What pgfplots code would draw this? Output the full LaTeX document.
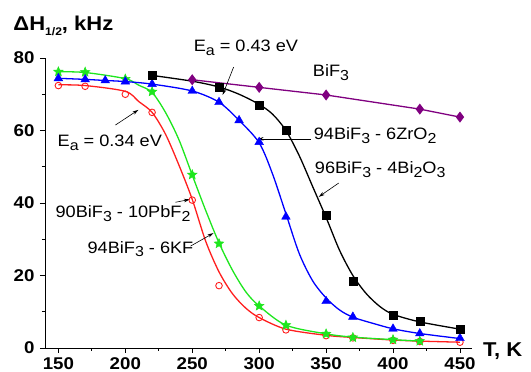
\documentclass[border=0pt]{standalone}
\usepackage{pgfplots}
\pgfplotsset{compat=1.18}
\usepackage{fontspec}
\setmainfont{Liberation Sans}[FakeStretch=1.1]
\setsansfont{Liberation Sans}[FakeStretch=1.1]
\usetikzlibrary{arrows.meta}
\definecolor{cred}{RGB}{255,30,30}
\definecolor{cgreen}{RGB}{30,230,30}
\definecolor{cblue}{RGB}{0,0,255}
\definecolor{cpurple}{RGB}{128,0,128}
\newcommand\sub[1]{\raisebox{-0.45ex}{\fontsize{14.5}{14.5}\selectfont #1}}
\newcommand\ann{\fontsize{16.5}{16.5}\selectfont}
\pgfdeclareplotmark{fstar}{%
  \pgfpathmoveto{\pgfqpointpolar{90}{\pgfplotmarksize}}%
  \pgfpathlineto{\pgfqpointpolar{126}{0.45\pgfplotmarksize}}%
  \pgfpathlineto{\pgfqpointpolar{162}{\pgfplotmarksize}}%
  \pgfpathlineto{\pgfqpointpolar{198}{0.45\pgfplotmarksize}}%
  \pgfpathlineto{\pgfqpointpolar{234}{\pgfplotmarksize}}%
  \pgfpathlineto{\pgfqpointpolar{270}{0.45\pgfplotmarksize}}%
  \pgfpathlineto{\pgfqpointpolar{306}{\pgfplotmarksize}}%
  \pgfpathlineto{\pgfqpointpolar{342}{0.45\pgfplotmarksize}}%
  \pgfpathlineto{\pgfqpointpolar{18}{\pgfplotmarksize}}%
  \pgfpathlineto{\pgfqpointpolar{54}{0.45\pgfplotmarksize}}%
  \pgfpathclose
  \pgfusepathqfillstroke}
\begin{document}
\begin{tikzpicture}
\begin{axis}[
  scale only axis, width=427pt, height=290pt,
  xmin=140, xmax=459, ymin=0, ymax=80,
  axis lines=left, axis line style={-, line width=0.8pt},
  tick align=outside, tick style={black, line width=0.8pt},
  major tick length=5pt, minor tick length=3pt,
  xtick={150,200,...,450}, ytick={0,20,...,80},
  minor x tick num=1, minor y tick num=1,
  /pgf/number format/assume math mode=true,
  ticklabel style={font=\fontsize{17}{17}\selectfont\bfseries},
  xticklabel style={yshift=-1pt},
  yticklabel style={xshift=-2pt},
  clip=false,
]
% curves
\addplot[cred, line width=1.3pt, smooth] coordinates {(150,72.6)(170,72.4)(200,70.8)(210,68)(220,65)(230,59)(240,50.5)(250,41)(260,29.5)(270,21)(280,15)(290,11)(300,8.4)(320,5.2)(350,3.5)(370,2.9)(400,2.2)(420,1.9)(450,1.6)};
\addplot[cgreen, line width=1.3pt, smooth] coordinates {(150,76.2)(170,76)(200,74.3)(210,72.5)(220,70.5)(230,65)(240,57.5)(250,47.7)(260,38)(270,29)(280,21.5)(290,15.5)(300,11.6)(320,6.3)(350,3.9)(370,3)(400,2.3)(420,1.9)};
\addplot[cblue, line width=1.3pt, smooth] coordinates {(150,74.4)(170,74.1)(185,73.8)(200,73.5)(220,72.8)(250,70.9)(270,67.8)(285,62.8)(300,56.6)(310,48)(320,37)(330,26)(340,18.5)(350,13.8)(360,10.5)(370,8.5)(385,6.8)(400,5.3)(420,4.0)(450,2.6)};
\addplot[black, line width=1.3pt, smooth] coordinates {(220,75.2)(250,73.6)(270,72)(285,70)(300,67.2)(310,64.5)(320,60)(330,53)(340,44.5)(350,36)(360,27)(370,20)(380,15)(390,11.5)(400,9.3)(420,7.2)(450,5.2)};
\addplot[cpurple, line width=1.3pt, mark=diamond*, mark size=4.5pt, mark options={fill=cpurple}] coordinates {(250,74)(300,71.9)(350,69.8)(420,65.9)(450,63.7)};
% marks
\addplot[only marks, cred, mark=o, mark size=3.3pt, mark options={line width=0.9pt}] coordinates {(150,72.4)(170,72.2)(200,70)(220,65)(250,40.8)(270,17.2)(300,8.4)(320,5.0)(350,3.4)(370,2.8)(400,2.1)(420,1.8)(450,1.6)};
\addplot[only marks, cgreen, mark=fstar, mark size=5pt, mark options={fill=cgreen, line width=0.5pt}] coordinates {(150,76.2)(170,76.1)(200,74.2)(220,70.7)(250,47.8)(270,28.8)(300,11.6)(320,6.3)(350,3.9)(370,2.9)(400,2.3)(420,1.9)};
\addplot[only marks, cblue, mark=triangle*, mark size=5pt] coordinates {(150,74.4)(170,74.1)(185,73.8)(200,73.5)(220,72.8)(250,70.9)(270,67.8)(285,62.8)(300,56.8)(320,36.2)(350,12.9)(370,8.6)(400,5.3)(420,4.0)(450,2.7)};
\addplot[only marks, black, mark=square*, mark size=4pt] coordinates {(220,75.2)(270,72)(300,67.1)(320,60.2)(350,36.6)(370,18.3)(400,9.1)(420,7.3)(450,5.1)};
% annotations
\node[anchor=base west, inner sep=0pt] at (axis cs:116.3,87.7) {\fontsize{20}{20}\selectfont\bfseries ΔH\raisebox{-0.55ex}{\fontsize{11}{11}\selectfont\bfseries 1/2}, kHz};
\node[anchor=base west, inner sep=0pt] at (axis cs:459,0) [xshift=11pt, yshift=-9pt] {\fontsize{20}{20}\selectfont\bfseries T, K};
\node[anchor=base west, inner sep=0pt] at (axis cs:251,81.7) {\ann E\sub{a} = 0.43 eV};
\node[anchor=base west, inner sep=0pt] at (axis cs:149.3,55.6) {\ann E\sub{a} = 0.34 eV};
\node[anchor=base west, inner sep=0pt] at (axis cs:340,75) {\ann BiF\sub{3}};
\node[anchor=base west, inner sep=0pt] at (axis cs:340.7,57.4) {\ann 94BiF\sub{3} - 6ZrO\sub{2}};
\node[anchor=base west, inner sep=0pt] at (axis cs:341.5,48.1) {\ann 96BiF\sub{3} - 4Bi\sub{2}O\sub{3}};
\node[anchor=base west, inner sep=0pt] at (axis cs:147.8,35.9) {\ann 90BiF\sub{3} - 10PbF\sub{2}};
\node[anchor=base west, inner sep=0pt] at (axis cs:171.7,26.2) {\ann 94BiF\sub{3} - 6KF};
\draw[-{Stealth[length=6pt,width=3.5pt]}, line width=0.6pt] (axis cs:280.9,77.5) -- (axis cs:272.7,69.8);
\draw[-{Stealth[length=6pt,width=3.5pt]}, line width=0.6pt] (axis cs:192.6,61.5) -- (axis cs:209.8,65.7);
\draw[-{Stealth[length=6pt,width=3.5pt]}, line width=0.6pt] (axis cs:338.5,57.7) -- (axis cs:298.8,57.7);
\draw[-{Stealth[length=6pt,width=3.5pt]}, line width=0.6pt] (axis cs:359.4,45.5) -- (axis cs:344.5,41.7);
\draw[-{Stealth[length=6pt,width=3.5pt]}, line width=0.6pt] (axis cs:237.5,40.2) -- (axis cs:248.2,41);
\draw[-{Stealth[length=6pt,width=3.5pt]}, line width=0.6pt] (axis cs:248.7,28.1) -- (axis cs:265.9,31.7);
\end{axis}
\pgfresetboundingbox
\path[use as bounding box] (-45pt,-24pt) rectangle (486pt,348pt);
\end{tikzpicture}
\end{document}
